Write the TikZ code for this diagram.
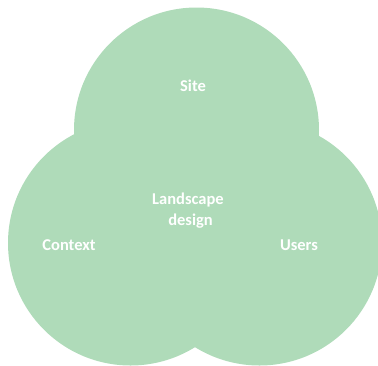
\documentclass[tikz,border=0pt]{standalone}
\usepackage{fontspec}
\setmainfont{Carlito}
\definecolor{venn}{RGB}{175,219,185}
\begin{document}
\begin{tikzpicture}[x=1pt,y=-1pt,
  disc/.style={circle,fill=venn,draw=none,minimum size=245pt,inner sep=0pt},
  lbl/.style={text=white,font=\bfseries\fontsize{16.5}{22}\selectfont,align=center,inner sep=0pt}]
\useasboundingbox (0,0) rectangle (378,365);
\node[disc] (top) at (196.5,130) {};
\node[disc] (left) at (130.5,243) {};
\node[disc] (right) at (259.5,243) {};
\node[lbl] (site) at (193,86) {Site};
\node[lbl] (core) at (188,211) {Landscape\\[-1pt]\hspace*{5pt}design};
\node[lbl] (context) at (69,245) {Context};
\node[lbl] (users) at (299,245) {Users};
\end{tikzpicture}
\end{document}
